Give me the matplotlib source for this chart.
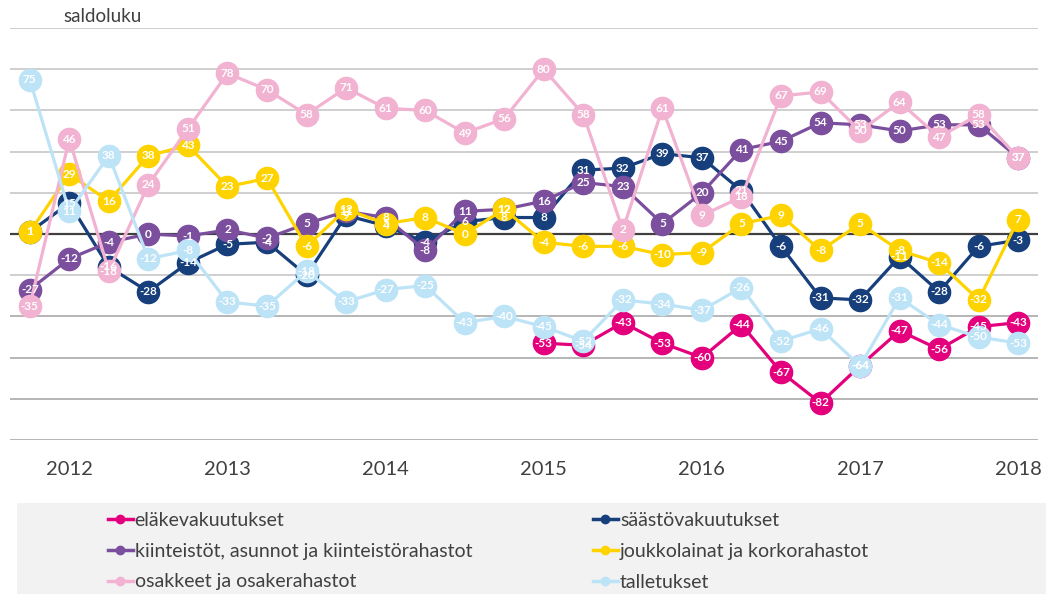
import numpy as np
import matplotlib
matplotlib.use("Agg")
import matplotlib.pyplot as plt
from matplotlib.lines import Line2D
from matplotlib.patches import Rectangle

plt.rcParams["font.family"] = ["Lato", "DejaVu Sans"]

# Quarterly balance figures, 2011Q4 .. 2018Q1
years = ["2012", "2013", "2014", "2015", "2016", "2017", "2018"]
year_idx = [1, 5, 9, 13, 17, 21, 25]

nan = np.nan
elake = [nan] * 13 + [-53, -54, -43, -53, -60, -44, -67, -82, -64, -47, -56, -45, -43]
saasto = [1, 15, -16, -28, -14, -5, -4, -20, 9, 4, -4, 6, 8, 8, 31, 32, 39, 37, 21,
          -6, -31, -32, -11, -28, -6, -3]
kiint = [-27, -12, -4, 0, -1, 2, -2, 5, 11, 8, -8, 11, 12, 16, 25, 23, 5, 20, 41,
         45, 54, 53, 50, 53, 53, 37]
joukko = [1, 29, 16, 38, 43, 23, 27, -6, 12, 5, 8, 0, 12, -4, -6, -6, -10, -9, 5,
          9, -8, 5, -8, -14, -32, 7]
osakk = [-35, 46, -18, 24, 51, 78, 70, 58, 71, 61, 60, 49, 56, 80, 58, 2, 61, 9,
         18, 67, 69, 50, 64, 47, 58, 37]
tallet = [75, 11, 38, -12, -8, -33, -35, -18, -33, -27, -25, -43, -40, -45, -52,
          -32, -34, -37, -26, -52, -46, -64, -31, -44, -50, -53]

names = ["eläkevakuutukset", "säästövakuutukset",
         "kiinteistöt, asunnot ja kiinteistörahastot",
         "joukkolainat ja korkorahastot", "osakkeet ja osakerahastot", "talletukset"]
series = [elake, saasto, kiint, joukko, osakk, tallet]
colors = ["#E4007C", "#173F7C", "#7B4F9D", "#FFD300", "#F2B2D1", "#BDE3F7"]

fig = plt.figure(figsize=(10.46, 5.94), dpi=100)
ax = fig.add_axes([10 / 1046, 1 - 440 / 594, 1028 / 1046, 412 / 594])

x = np.arange(26)
for i, (vals, c) in enumerate(zip(series, colors)):
    v = np.array(vals, dtype=float)
    ax.plot(x, v, color=c, lw=2.3, marker="o", ms=16, mec=c, mfc=c,
            zorder=3 + i, solid_capstyle="round")

# data labels on top of all markers
for vals in series:
    for xi, val in zip(x, vals):
        if np.isnan(val):
            continue
        ax.text(xi, val, f"{int(val)}", ha="center", va="center", color="white",
                fontsize=8.5, fontweight="bold", zorder=20)

for g in range(-100, 101, 20):
    if g == 0:
        ax.axhline(0, color="#404040", lw=1.6, zorder=1)
    elif g < -20:
        ax.axhline(g, color="#B5B5B5", lw=1.4, zorder=1)
    else:
        ax.axhline(g, color="#CFCFCF", lw=1.4, zorder=1)

ax.set_xlim(-0.5, 25.5)
ax.set_ylim(-100, 100)
ax.set_yticks([])
ax.set_xticks(year_idx)
ax.set_xticklabels(years, fontsize=14.5, color="#404040")
ax.tick_params(axis="x", length=0, pad=15)
for s in ax.spines.values():
    s.set_visible(False)

fig.text(103 / 1046, 1 - 16 / 594, "saldoluku", ha="center", va="center",
         fontsize=13.5, color="#404040")

# legend with grey background
fig.patches.append(Rectangle((17 / 1046, 0), 1 - 17 / 1046, 91 / 594,
                             transform=fig.transFigure, facecolor="#F2F2F2",
                             edgecolor="none", zorder=0))
handles = [Line2D([], [], color=c, lw=2.5, marker="o", ms=6) for c in colors]
order = [0, 2, 4, 1, 3, 5]
fig.legend([handles[k] for k in order], [names[k] for k in order], ncol=2,
           loc="upper left", bbox_to_anchor=(90 / 1046, 1 - 494 / 594),
           frameon=False, fontsize=14, handlelength=1.3, handletextpad=0.1,
           columnspacing=6.2, labelspacing=0.72, labelcolor="#404040")

fig.savefig("out.png", dpi=100)
